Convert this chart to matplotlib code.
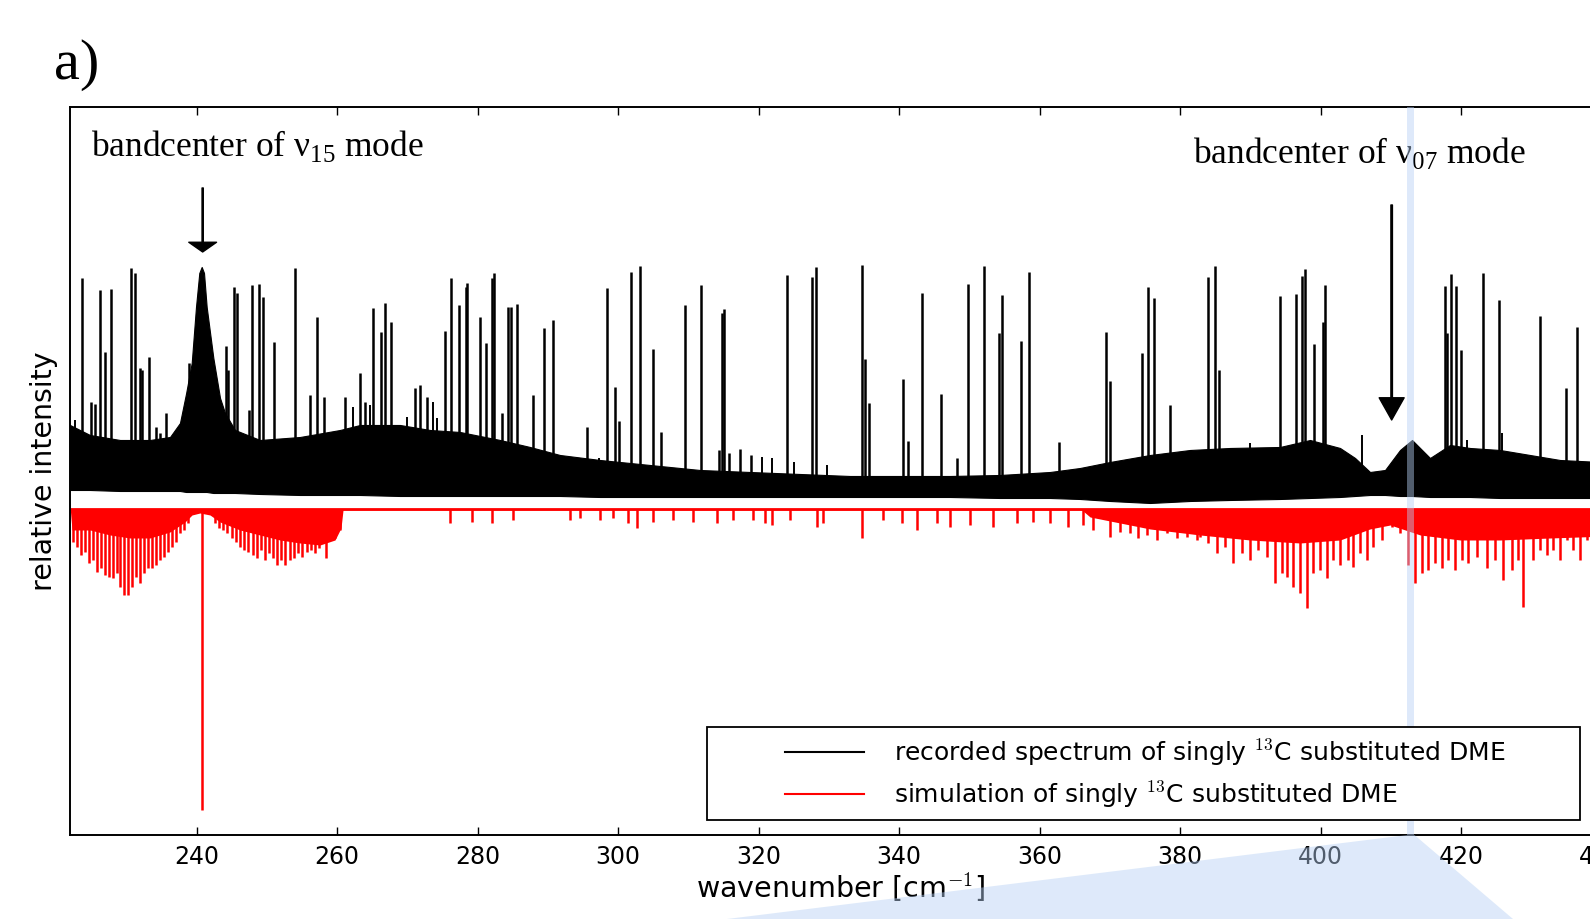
import numpy as np
import matplotlib
matplotlib.use('Agg')
import matplotlib.pyplot as plt
from matplotlib.lines import Line2D
from matplotlib.patches import Polygon

plt.rcParams['font.family'] = 'DejaVu Sans'
plt.rcParams['mathtext.fontset'] = 'cm'
plt.rcParams['mathtext.rm'] = 'Liberation Serif'

# --- recorded spectrum (black): sharp lines standing on the noise band
peak_wn = [223.72, 224.91, 225.48, 226.23, 226.99, 227.80, 230.65, 231.17, 231.97, 232.21,
           233.25, 234.16, 234.78, 235.63, 238.86, 244.17, 244.46, 245.31, 245.74, 247.40,
           247.87, 248.87, 249.48, 251.05, 254.04, 256.13, 257.08, 258.16, 261.11, 263.25,
           264.00, 265.14, 266.23, 266.85, 267.70, 271.07, 271.83, 272.74, 275.39, 276.16,
           277.38, 278.33, 278.52, 280.37, 281.18, 281.99, 282.28, 283.50, 284.36, 284.74,
           285.64, 287.83, 289.48, 290.72, 295.60, 298.41, 299.54, 300.16, 301.86, 303.10,
           304.91, 306.09, 309.51, 311.74, 314.35, 314.82, 315.10, 315.77, 317.34, 318.90,
           323.99, 327.63, 328.20, 334.66, 335.17, 335.70, 340.58, 341.25, 343.25, 345.91,
           348.23, 349.79, 352.03, 354.16, 354.63, 357.30, 358.52, 362.75, 369.40, 370.01,
           374.56, 375.37, 376.27, 378.59, 383.91, 384.91, 385.52, 394.25, 396.48, 397.38,
           397.77, 399.09, 400.33, 400.57, 417.74, 417.98, 418.59, 419.22, 419.93, 423.06,
           425.38, 431.26, 434.92, 436.53]
peak_h = [2.15, 0.91, 0.89, 2.03, 1.41, 2.04, 2.25, 2.20, 1.25, 1.23,
          1.36, 0.66, 0.60, 0.80, 1.30, 1.47, 1.23, 2.06, 2.00, 0.83,
          2.08, 2.09, 1.96, 1.51, 2.25, 0.98, 1.76, 0.96, 0.96, 1.20,
          0.91, 1.85, 1.61, 1.90, 1.71, 1.05, 1.08, 0.96, 1.62, 2.15,
          1.88, 2.06, 2.10, 1.76, 1.50, 2.15, 2.20, 0.80, 1.86, 1.86,
          1.89, 0.98, 1.65, 1.73, 0.66, 2.05, 1.06, 0.72, 2.21, 2.27,
          1.44, 0.61, 1.88, 2.08, 0.43, 1.80, 1.84, 0.40, 0.44, 0.38,
          2.18, 2.16, 2.26, 2.28, 1.34, 0.90, 1.14, 0.52, 2.00, 0.99,
          0.35, 2.09, 2.27, 1.60, 1.98, 1.52, 2.21, 0.51, 1.61, 1.12,
          1.40, 2.06, 1.95, 0.88, 2.16, 2.27, 1.23, 1.97, 1.99, 2.17,
          2.24, 1.49, 1.71, 2.08, 2.07, 1.60, 2.19, 2.07, 1.43, 2.20,
          1.93, 1.77, 1.05, 1.66]

# weaker lines poking out of the noise band
weak_wn = [222.68, 262.29, 264.67, 269.89, 273.59, 274.16, 297.27, 320.43, 321.94, 325.02,
           329.68, 389.94, 405.92, 413.18, 420.78, 425.77]
weak_h = [0.73, 0.86, 0.88, 0.76, 0.91, 0.75, 0.35, 0.36, 0.35, 0.31,
          0.28, 0.50, 0.58, 0.51, 0.53, 0.60]

# noise band envelope of the recorded spectrum (incl. the v15 Q-branch hump)
band_wn = [221.96, 224.81, 229.08, 233.35, 236.20, 237.62, 238.50, 239.29, 239.90, 240.37,
           240.71, 241.04, 241.42, 242.37, 243.32, 244.03, 245.45, 249.01, 254.71, 260.40,
           263.25, 268.94, 273.21, 277.48, 283.17, 287.44, 291.71, 297.41, 304.53, 311.64,
           318.76, 325.88, 333.00, 340.12, 347.23, 354.35, 361.47, 365.74, 370.01, 375.71,
           381.40, 387.09, 394.21, 398.48, 402.75, 404.89, 407.02, 409.16, 411.29, 413.00,
           415.56, 418.41, 421.25, 425.52, 429.79, 434.06, 439.75, 445.00]
band_hi = [0.68, 0.58, 0.53, 0.53, 0.56, 0.70, 1.00, 1.30, 1.86, 2.20,
           2.26, 2.20, 1.86, 1.35, 0.95, 0.80, 0.63, 0.53, 0.56, 0.63,
           0.68, 0.68, 0.63, 0.61, 0.53, 0.46, 0.38, 0.33, 0.28, 0.23,
           0.21, 0.19, 0.17, 0.17, 0.17, 0.18, 0.21, 0.25, 0.31, 0.38,
           0.43, 0.45, 0.46, 0.53, 0.45, 0.35, 0.21, 0.23, 0.43, 0.53,
           0.35, 0.48, 0.45, 0.43, 0.38, 0.33, 0.31, 0.30]
band_lo = [0.03, 0.03, 0.02, 0.02, 0.02, 0.02, 0.01, 0.01, 0.01, 0.01,
           0.01, 0.01, 0.01, 0.00, 0.00, 0.00, 0.00, -0.01, -0.02, -0.02,
           -0.02, -0.03, -0.03, -0.03, -0.03, -0.03, -0.03, -0.04, -0.04, -0.04,
           -0.04, -0.04, -0.04, -0.04, -0.04, -0.05, -0.05, -0.06, -0.08, -0.10,
           -0.08, -0.07, -0.06, -0.05, -0.04, -0.03, -0.02, -0.02, -0.03, -0.03,
           -0.04, -0.04, -0.04, -0.05, -0.05, -0.05, -0.05, -0.05]
peak_base = 0.06

# --- simulation (red), drawn downwards from its own baseline
red_base = -0.16
red_env_wn = [222.00, 222.25, 224.81, 227.66, 230.50, 233.35, 236.20, 238.33, 239.33, 240.47,
              241.89, 243.32, 246.16, 249.01, 251.86, 254.71, 257.55, 259.69, 260.54, 260.83,
              366.00, 367.17, 375.71, 382.83, 389.95, 397.07, 402.76, 407.00, 409.90, 414.17,
              419.86, 425.55, 432.67, 445.00]
red_env_h = [-0.16, -0.37, -0.37, -0.42, -0.45, -0.45, -0.39, -0.29, -0.22, -0.20,
             -0.22, -0.29, -0.37, -0.42, -0.47, -0.50, -0.52, -0.47, -0.35, -0.17,
             -0.17, -0.24, -0.36, -0.42, -0.47, -0.50, -0.47, -0.36, -0.32, -0.42,
             -0.47, -0.47, -0.45, -0.42]

red_wn = [222.43, 223.00, 223.57, 224.14, 224.71, 225.28, 225.85, 226.42, 226.99, 227.56,
          228.13, 228.70, 229.08, 229.65, 230.26, 230.75, 231.36, 231.93, 232.50, 233.07,
          233.64, 234.21, 234.78, 235.35, 235.92, 236.48, 237.05, 237.62, 238.19, 238.76,
          240.75,
          242.60, 243.22, 243.79, 244.36, 244.98, 245.59, 246.16, 246.73, 247.35, 247.97,
          248.54, 249.11, 249.72, 250.33, 250.90, 251.47, 252.04, 252.61, 253.28, 253.85,
          254.46, 255.03, 255.66, 256.23, 256.84, 257.41, 258.36, 258.98, 259.69, 260.40,
          276.06, 279.15, 281.99, 285.07, 293.14, 294.56, 297.41, 299.30, 301.44, 302.63,
          305.00, 307.84, 310.69, 314.02, 316.38, 319.23, 320.90, 321.85, 324.46, 328.26,
          329.20, 334.75, 337.74, 340.36, 342.58, 345.34, 347.23, 350.08, 353.40, 356.73,
          359.09, 361.47, 364.07, 366.21, 367.63, 370.01, 371.43, 372.85, 374.04, 375.23,
          376.66, 378.08, 379.50, 380.93, 382.35,
          382.82, 384.00, 385.20, 386.38, 387.56, 388.75, 389.94, 391.12, 392.31, 393.49,
          394.45, 395.16, 396.10, 397.05, 398.01, 398.95, 399.90, 400.85, 401.80, 402.75,
          403.93, 404.64, 405.59, 406.55, 407.49, 408.68, 410.11, 411.29, 412.47, 413.43,
          414.38, 415.32, 416.27, 417.22, 418.17, 419.12, 420.07, 421.01, 422.21, 423.63,
          424.81, 426.00, 427.19, 428.13, 428.84, 430.26, 431.22, 432.17, 433.11, 434.06,
          435.02, 435.96, 436.91, 437.86]
red_h = [-0.49, -0.54, -0.62, -0.59, -0.70, -0.67, -0.79, -0.75, -0.82, -0.84,
         -0.85, -0.80, -0.94, -1.02, -1.02, -0.94, -0.84, -0.90, -0.80, -0.75,
         -0.75, -0.72, -0.67, -0.64, -0.59, -0.54, -0.49, -0.40, -0.37, -0.30,
         -3.17,
         -0.30, -0.35, -0.37, -0.40, -0.45, -0.49, -0.54, -0.57, -0.59, -0.62,
         -0.65, -0.57, -0.67, -0.60, -0.65, -0.72, -0.67, -0.72, -0.67, -0.65,
         -0.60, -0.64, -0.59, -0.57, -0.60, -0.55, -0.65, -0.47, -0.45, -0.37,
         -0.30, -0.29, -0.30, -0.27, -0.27, -0.25, -0.27, -0.25, -0.30, -0.35,
         -0.29, -0.27, -0.29, -0.30, -0.27, -0.27, -0.30, -0.32, -0.27, -0.34,
         -0.30, -0.45, -0.27, -0.30, -0.37, -0.30, -0.34, -0.32, -0.34, -0.30,
         -0.29, -0.30, -0.34, -0.32, -0.37, -0.44, -0.39, -0.40, -0.45, -0.42,
         -0.47, -0.40, -0.45, -0.44, -0.47,
         -0.44, -0.50, -0.60, -0.54, -0.70, -0.60, -0.67, -0.57, -0.64, -0.90,
         -0.80, -0.84, -0.94, -1.00, -1.15, -0.80, -0.77, -0.85, -0.67, -0.72,
         -0.67, -0.74, -0.60, -0.67, -0.54, -0.47, -0.34, -0.40, -0.72, -0.90,
         -0.80, -0.77, -0.70, -0.75, -0.67, -0.77, -0.67, -0.70, -0.64, -0.75,
         -0.67, -0.87, -0.77, -0.67, -1.14, -0.67, -0.57, -0.62, -0.57, -0.67,
         -0.47, -0.57, -0.67, -0.47]

xmin, xmax = 222, 445
ymin, ymax = -3.42, 3.86
zoom_band = (412.35, 413.35)

ax_left, ax_bottom, ax_width, ax_height = 0.04418, 0.0914, 0.98528, 0.7922

fig = plt.figure(figsize=(15.9, 9.19), dpi=100)
ax = fig.add_axes([ax_left, ax_bottom, ax_width, ax_height])

ax.fill_between(band_wn, band_lo, band_hi, color='black', lw=0.8, edgecolor='black')
ax.vlines(peak_wn, peak_base, peak_h, color='black', lw=1.8)
ax.vlines(weak_wn, peak_base, weak_h, color='black', lw=1.4)

ax.hlines(red_base, xmin, xmax, color='red', lw=2)
ax.fill_between(red_env_wn, red_base, red_env_h, color='red', lw=0)
ax.vlines(red_wn, red_base, red_h, color='red', lw=1.8)

ax.axvspan(*zoom_band, color='#b6d0f4', alpha=0.45, lw=0, zorder=4)

ax.text(224.95, 3.37, 'bandcenter of \u03bd$_{\\mathrm{15}}$ mode', fontsize=25.5,
        family='Liberation Serif', math_fontfamily='custom', va='baseline')
ax.text(381.82, 3.30, 'bandcenter of \u03bd$_{\\mathrm{07}}$ mode', fontsize=25.5,
        family='Liberation Serif', math_fontfamily='custom', va='baseline')
ax.annotate('', xy=(240.85, 2.41), xytext=(240.85, 3.05),
            arrowprops=dict(facecolor='black', edgecolor='black', width=0.9,
                            headwidth=20, headlength=7, shrink=0))
ax.annotate('', xy=(410.1, 0.73), xytext=(410.1, 2.88),
            arrowprops=dict(facecolor='black', edgecolor='black', width=1.1,
                            headwidth=18, headlength=16, shrink=0))

ax.set_xlim(xmin, xmax)
ax.set_ylim(ymin, ymax)
ax.set_xticks(np.arange(240, 441, 20))
ax.set_yticks([])
ax.tick_params(axis='x', direction='in', length=6, width=1, labelsize=17, pad=7, top=True)
for sp in ax.spines.values():
    sp.set_linewidth(1.4)

ax.set_xlabel('wavenumber [cm$^{-1}$]', fontsize=20.5)
ax.xaxis.set_label_coords(0.492, -0.050)
ax.set_ylabel('relative intensity', fontsize=20.5)
ax.yaxis.set_label_coords(-0.008, 0.5)

handles = [Line2D([], [], color='black', lw=1.5), Line2D([], [], color='red', lw=1.5)]
labels = ['recorded spectrum of singly $^{13}$C substituted DME',
          'simulation of singly $^{13}$C substituted DME']
leg = ax.legend(handles, labels, loc='lower left', bbox_to_anchor=(0.4064, 0.0206, 0.5573, 0.1154),
                mode='expand', borderaxespad=0, fontsize=18, fancybox=False, framealpha=1,
                edgecolor='black', borderpad=0.4, handlelength=5.9, handletextpad=1.2,
                labelspacing=0.45)
leg.get_frame().set_linewidth(1.3)
leg.set_zorder(6)
for ln in leg.get_lines():
    x = np.asarray(ln.get_xdata(), dtype=float)
    ln.set_xdata(np.linspace(x[0] + 0.46 * (x[-1] - x[0]), x[-1], len(x)))

fig.text(0.034, 0.914, 'a)', fontsize=42, family='Liberation Serif', va='baseline')


def to_fig_x(w):
    return ax_left + (w - xmin) / (xmax - xmin) * ax_width


trap = Polygon([(to_fig_x(zoom_band[0]), ax_bottom), (to_fig_x(zoom_band[1]), ax_bottom),
                (1513 / 1590, 0.0), (727 / 1590, 0.0)], closed=True,
               transform=fig.transFigure, facecolor='#b6d0f4', alpha=0.45,
               edgecolor='none', zorder=10)
fig.add_artist(trap)

fig.savefig('out.png', dpi=100)
